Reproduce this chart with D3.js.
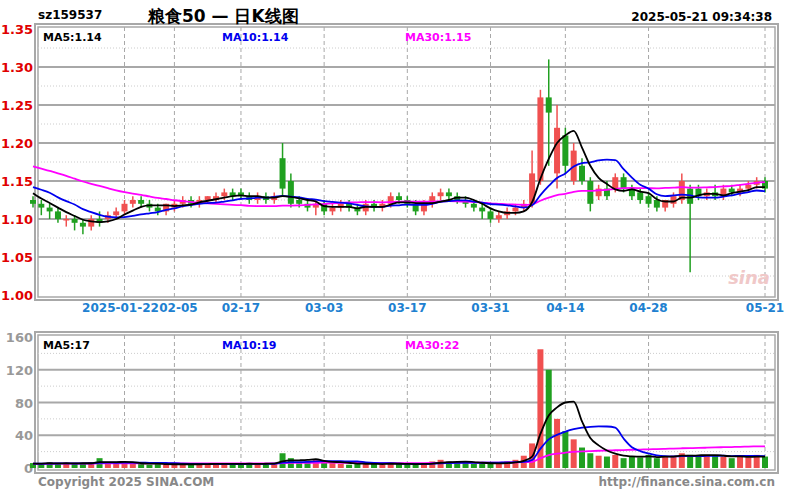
<!DOCTYPE html>
<html><head><meta charset="utf-8">
<script src="https://cdn.jsdelivr.net/npm/d3@7/dist/d3.min.js"></script>
<style>body{margin:0;background:#fff}svg{display:block}text{font-family:"DejaVu Sans",sans-serif;font-weight:bold}</style>
</head><body><svg id="c" width="800" height="500"></svg>
<script>
const priorCloses=[1.20,1.21,1.20,1.19,1.20,1.21,1.20,1.19,1.18,1.19,1.20,1.19,1.18,1.17,1.18,1.17,1.16,1.17,1.16,1.15,1.16,1.15,1.15,1.16,1.15,1.14,1.15,1.14,1.13,1.13];
const priorVols=[5,6,5,4,6,5,5,4,6,5,5,6,4,5,6,5,4,5,6,5,5,6,5,4,5,6,5,5,6,5];
const opens =[1.125,1.12,1.115,1.11,1.10,1.10,1.095,1.09,1.10,1.10,1.105,1.11,1.12,1.125,1.12,1.115,1.11,1.115,1.12,1.125,1.12,1.125,1.125,1.13,1.135,1.135,1.13,1.125,1.13,1.125,1.18,1.15,1.125,1.12,1.115,1.12,1.11,1.115,1.12,1.115,1.11,1.12,1.115,1.12,1.13,1.125,1.12,1.11,1.12,1.13,1.135,1.13,1.125,1.12,1.115,1.11,1.10,1.105,1.11,1.115,1.12,1.15,1.26,1.16,1.21,1.15,1.17,1.15,1.13,1.14,1.14,1.155,1.14,1.135,1.13,1.125,1.115,1.12,1.125,1.14,1.14,1.13,1.135,1.13,1.14,1.135,1.14,1.145,1.15];
const highs =[1.13,1.125,1.12,1.115,1.105,1.105,1.10,1.105,1.11,1.11,1.115,1.125,1.13,1.13,1.125,1.12,1.12,1.125,1.13,1.13,1.13,1.13,1.135,1.14,1.14,1.14,1.135,1.135,1.135,1.135,1.20,1.16,1.13,1.125,1.125,1.125,1.12,1.125,1.125,1.12,1.125,1.125,1.125,1.135,1.135,1.13,1.125,1.125,1.135,1.14,1.14,1.135,1.13,1.125,1.12,1.115,1.11,1.115,1.12,1.125,1.19,1.27,1.31,1.25,1.22,1.20,1.18,1.155,1.145,1.15,1.16,1.16,1.145,1.14,1.135,1.13,1.125,1.135,1.16,1.145,1.145,1.14,1.145,1.145,1.145,1.145,1.15,1.155,1.155];
const lows  =[1.115,1.105,1.10,1.095,1.09,1.085,1.08,1.085,1.09,1.095,1.10,1.105,1.115,1.115,1.11,1.105,1.105,1.11,1.115,1.115,1.115,1.12,1.12,1.125,1.125,1.125,1.12,1.12,1.12,1.12,1.13,1.115,1.115,1.11,1.105,1.105,1.105,1.11,1.11,1.105,1.105,1.11,1.11,1.115,1.12,1.115,1.105,1.105,1.115,1.125,1.125,1.12,1.115,1.11,1.10,1.095,1.095,1.10,1.105,1.11,1.115,1.145,1.17,1.14,1.16,1.145,1.145,1.11,1.125,1.125,1.135,1.135,1.125,1.12,1.115,1.11,1.11,1.115,1.12,1.03,1.125,1.125,1.125,1.125,1.13,1.13,1.135,1.14,1.135];
const closes=[1.12,1.115,1.11,1.10,1.10,1.095,1.09,1.10,1.095,1.105,1.11,1.12,1.125,1.12,1.115,1.11,1.12,1.12,1.125,1.12,1.125,1.13,1.13,1.135,1.13,1.13,1.125,1.13,1.125,1.13,1.14,1.12,1.12,1.115,1.12,1.11,1.115,1.12,1.115,1.11,1.12,1.115,1.12,1.13,1.125,1.12,1.11,1.12,1.13,1.135,1.13,1.125,1.12,1.115,1.11,1.10,1.105,1.11,1.115,1.12,1.16,1.26,1.24,1.22,1.17,1.19,1.15,1.12,1.14,1.13,1.155,1.14,1.13,1.125,1.12,1.115,1.125,1.13,1.15,1.12,1.13,1.135,1.13,1.14,1.135,1.14,1.145,1.15,1.14];
const volumes=[6,5,7,5,6,5,6,7,12,6,5,7,6,5,4,5,4,5,5,4,5,5,6,5,4,5,6,5,6,5,18,12,6,8,10,7,6,5,4,5,6,5,4,6,5,5,4,5,8,10,8,7,6,5,6,5,6,8,10,15,30,145,120,60,45,35,25,18,15,14,16,12,14,13,16,12,14,15,18,16,14,16,15,14,12,14,13,16,14];
const tickIdx=[11,17,25,35,45,55,64,74,88];
const tickLabels=["2025-01-22","02-05","02-17","03-03","03-17","03-31","04-14","04-28","05-21"];
const priceTicks=[1.00,1.05,1.10,1.15,1.20,1.25,1.30,1.35];
const priceLabels=["1.00","1.05","1.10","1.15","1.20","1.25","1.30","1.35"];
const volTicks=[0,40,80,120,160];
const volLabels=["0","40","80","120","160"];
const maPriceLabels=["MA5:1.14","MA10:1.14","MA30:1.15"];
const maVolLabels=["MA5:17","MA10:19","MA30:22"];

const svg=d3.select("#c");
const RED="#f05050",GREEN="#20a020",GRID="#a8a8a8";
const n=closes.length;
const x=d3.scaleLinear().domain([0,n-1]).range([33,765]);
const y=d3.scaleLinear().domain([1.00,1.35]).range([295,29]);
const yv=d3.scaleLinear().domain([0,160]).range([468,337]);
const L=38,R=775;

function ma(all,k,off){return d3.range(n).map(i=>d3.mean(all.slice(off+i-k+1,off+i+1)));}
const allC=priorCloses.concat(closes), allV=priorVols.concat(volumes), off=priorCloses.length;

function frame(t,b){
  svg.append("rect").attr("x",L-3).attr("y",t-3).attr("width",R-L+6).attr("height",b-t+6).attr("fill","none").attr("stroke",GRID).attr("stroke-width",2);
  svg.append("rect").attr("x",L).attr("y",t).attr("width",R-L).attr("height",b-t).attr("fill","none").attr("stroke",GRID).attr("stroke-width",1.5);
  tickIdx.forEach(i=>svg.append("line").attr("x1",x(i)).attr("x2",x(i)).attr("y1",t).attr("y2",b).attr("stroke",GRID).attr("stroke-dasharray","4,3"));
}
frame(27,297); frame(335,470);
priceTicks.forEach(v=>{svg.append("line").attr("x1",L).attr("x2",R).attr("y1",y(v)).attr("y2",y(v)).attr("stroke",GRID).attr("stroke-width",v>1&&v<1.35?2:0);});
priceTicks.slice(0,-1).forEach(v=>svg.append("line").attr("x1",L).attr("x2",R).attr("y1",y(v+0.025)).attr("y2",y(v+0.025)).attr("stroke","#ccc").attr("stroke-dasharray","1,2"));
volTicks.slice(1,-1).forEach(v=>svg.append("line").attr("x1",L).attr("x2",R).attr("y1",yv(v)).attr("y2",yv(v)).attr("stroke",GRID).attr("stroke-width",2));
volTicks.slice(0,-1).forEach(v=>svg.append("line").attr("x1",L).attr("x2",R).attr("y1",yv(v+20)).attr("y2",yv(v+20)).attr("stroke","#ccc").attr("stroke-dasharray","1,2"));

priceTicks.forEach((v,i)=>svg.append("text").attr("x",1).attr("y",y(v)+5).attr("fill","#e00000").attr("font-size",13).text(priceLabels[i]));
volTicks.forEach((v,i)=>svg.append("text").attr("x",33).attr("y",yv(v)+5).attr("text-anchor","end").attr("fill","#999").attr("font-size",13).text(volLabels[i]));
tickIdx.forEach((t,i)=>svg.append("text").attr("x",x(t)+(i==0?-4:0)+(i==1?4:0)).attr("y",312).attr("text-anchor","middle").attr("fill","#2080d0").attr("font-size",12).text(tickLabels[i]));

const w=6;
const cg=svg.append("g");
closes.forEach((c,i)=>{
  const o=opens[i],up=c>=o,col=up?RED:GREEN;
  cg.append("line").attr("x1",x(i)).attr("x2",x(i)).attr("y1",y(highs[i])).attr("y2",y(lows[i])).attr("stroke",col).attr("stroke-width",1.5);
  cg.append("rect").attr("x",x(i)-w/2).attr("width",w).attr("y",y(Math.max(o,c))).attr("height",Math.max(1.5,Math.abs(y(o)-y(c)))).attr("fill",col);
  cg.append("rect").attr("x",x(i)-w/2).attr("width",w).attr("y",yv(volumes[i])).attr("height",yv(0)-yv(volumes[i])).attr("fill",col);
});
const line=(sc)=>d3.line().x((d,i)=>x(i)).y(d=>sc(d)).curve(d3.curveMonotoneX);
[[30,"#ff00ff"],[10,"#0000ee"],[5,"#000"]].forEach(([k,col])=>{
  svg.append("path").attr("d",line(y)(ma(allC,k,off))).attr("fill","none").attr("stroke",col).attr("stroke-width",1.8);
  svg.append("path").attr("d",line(yv)(ma(allV,k,off))).attr("fill","none").attr("stroke",col).attr("stroke-width",1.8);
});

svg.append("text").attr("x",38).attr("y",19).attr("font-size",12).attr("fill","#000").text("sz159537");
svg.append("text").attr("x",148).attr("y",22).attr("font-size",17).attr("fill","#000").attr("font-family","Noto Sans CJK SC").text("粮食50 — 日K线图");
svg.append("text").attr("x",772).attr("y",21).attr("text-anchor","end").attr("font-size",12).attr("fill","#000").text("2025-05-21 09:34:38");
const cols=["#000","#0000ee","#ff00ff"],lx=[43,222,405];
maPriceLabels.forEach((t,i)=>svg.append("text").attr("x",lx[i]).attr("y",41).attr("font-size",11).attr("fill",cols[i]).text(t));
maVolLabels.forEach((t,i)=>svg.append("text").attr("x",lx[i]).attr("y",349).attr("font-size",11).attr("fill",cols[i]).text(t));
svg.append("text").attr("x",38).attr("y",486).attr("font-size",12).attr("fill","#888").text("Copyright 2025 SINA.COM");
svg.append("text").attr("x",775).attr("y",486).attr("text-anchor","end").attr("font-size",12).attr("fill","#888").text("http://finance.sina.com.cn");
svg.append("text").attr("x",770).attr("y",284).attr("text-anchor","end").attr("font-size",18).attr("font-style","italic").attr("fill","#f0c8c8").text("sina");
</script></body></html>
